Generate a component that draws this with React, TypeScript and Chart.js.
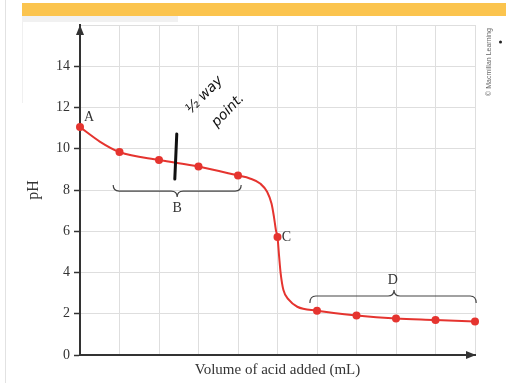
import { useEffect, useRef } from 'react';
import { Chart, registerables } from 'chart.js';

Chart.register(...registerables);

// Marked titration points (volume of acid added, pH)
const markerVolumes = [0, 1, 2, 3, 4, 5, 6, 7, 8, 9, 10];
const markerPh = [11.05, 9.84, 9.45, 9.14, 8.7, 5.72, 2.15, 1.92, 1.77, 1.7, 1.62];

// Points
const curveVolumes = [0, 0.5, 1, 2, 3, 4, 4.3, 4.57, 4.74, 4.85, 4.91, 4.96, 5, 5.04, 5.08, 5.15, 5.29, 5.5, 6, 7, 8, 9, 10];
const curvePh = [11.05, 10.35, 9.84, 9.45, 9.14, 8.7, 8.56, 8.3, 7.9, 7.33, 6.7, 6.05, 5.72, 4.8, 3.96, 3.15, 2.67, 2.34, 2.15, 1.92, 1.77, 1.7, 1.62];

const yTickValues = [0, 2, 4, 6, 8, 10, 12, 14];
const yMax = 16;
const xMax = 10;

const xTitle = 'Volume of acid added (mL)';
const yTitle = 'pH';

// Annotation anchors in data units
const labelA = { text: 'A', x: 0.1, y: 11.5 };
const labelB = { text: 'B', x: 2.46, y: 7.13 };
const labelC = { text: 'C', x: 5.11, y: 5.72 };
const labelD = { text: 'D', x: 7.92, y: 3.64 };
const braceB = { x1: 0.84, x2: 4.08, xm: 2.46, yEnd: 8.24, yLine: 7.95, yNib: 7.66 };
const braceD = { x1: 5.82, x2: 10.03, xm: 7.95, yEnd: 2.52, yLine: 2.86, yNib: 3.15 };
const halfMark = { x1: 2.45, y1: 10.72, x2: 2.4, y2: 8.53 };
const noteLine1 = { text: '½ way', x: 3.15, y: 12.6 };
const noteLine2 = { text: 'point.', x: 3.75, y: 11.85 };

const RED = '#e5342f';
const DARK = '#333333';
const SERIF = '"Liberation Serif", "Times New Roman", serif';

const decorPlugin = {
  id: 'decor',
  beforeDraw(chart: any) {
    const { ctx } = chart;
    ctx.save();
    ctx.fillStyle = '#ffffff';
    ctx.fillRect(0, 0, chart.width, chart.height);
    ctx.fillStyle = '#fbc44e';
    ctx.fillRect(22, 3, chart.width - 22, 13);
    ctx.fillStyle = '#f1f1f1';
    ctx.fillRect(22, 16, 156, 6);
    ctx.strokeStyle = '#e2e2e2';
    ctx.lineWidth = 1;
    ctx.beginPath();
    ctx.moveTo(5.5, 0);
    ctx.lineTo(5.5, chart.height);
    ctx.stroke();
    ctx.strokeStyle = '#f0f0f0';
    ctx.beginPath();
    ctx.moveTo(22.5, 22);
    ctx.lineTo(22.5, 103);
    ctx.stroke();
    ctx.restore();
  },
  afterDraw(chart: any) {
    const { ctx, scales } = chart;
    const xs = scales.x;
    const ys = scales.y;
    const px = (v: number) => xs.getPixelForValue(v);
    const py = (v: number) => ys.getPixelForValue(v);
    ctx.save();

    // axis arrows
    ctx.fillStyle = DARK;
    const ax = px(0);
    const top = py(yMax);
    ctx.beginPath();
    ctx.moveTo(ax, top);
    ctx.lineTo(ax - 4, top + 10);
    ctx.lineTo(ax + 4, top + 10);
    ctx.closePath();
    ctx.fill();
    const bx = px(xMax) + 1;
    const by = py(0);
    ctx.beginPath();
    ctx.moveTo(bx, by);
    ctx.lineTo(bx - 10, by - 4);
    ctx.lineTo(bx - 10, by + 4);
    ctx.closePath();
    ctx.fill();

    // braces
    const brace = (b: any) => {
      const x1 = px(b.x1), x2 = px(b.x2), xm = px(b.xm);
      const yE = py(b.yEnd), yL = py(b.yLine), yN = py(b.yNib);
      const r = 6;
      ctx.beginPath();
      ctx.moveTo(x1, yE);
      ctx.quadraticCurveTo(x1, yL, x1 + r, yL);
      ctx.lineTo(xm - r, yL);
      ctx.quadraticCurveTo(xm, yL, xm, yN);
      ctx.quadraticCurveTo(xm, yL, xm + r, yL);
      ctx.lineTo(x2 - r, yL);
      ctx.quadraticCurveTo(x2, yL, x2, yE);
      ctx.stroke();
    };
    ctx.strokeStyle = '#444';
    ctx.lineWidth = 1.2;
    brace(braceB);
    brace(braceD);

    // letter labels
    ctx.fillStyle = DARK;
    ctx.font = `14px ${SERIF}`;
    ctx.textBaseline = 'middle';
    ctx.textAlign = 'left';
    ctx.fillText(labelA.text, px(labelA.x), py(labelA.y));
    ctx.fillText(labelC.text, px(labelC.x), py(labelC.y));
    ctx.textAlign = 'center';
    ctx.fillText(labelB.text, px(labelB.x), py(labelB.y));
    ctx.fillText(labelD.text, px(labelD.x), py(labelD.y));

    // handwritten note
    ctx.strokeStyle = '#111';
    ctx.lineWidth = 3;
    ctx.lineCap = 'round';
    ctx.beginPath();
    ctx.moveTo(px(halfMark.x1), py(halfMark.y1));
    ctx.lineTo(px(halfMark.x2), py(halfMark.y2));
    ctx.stroke();
    ctx.fillStyle = '#111';
    ctx.font = 'italic 14px "DejaVu Sans", sans-serif';
    ctx.textAlign = 'center';
    for (const n of [noteLine1, noteLine2]) {
      ctx.save();
      ctx.translate(px(n.x), py(n.y));
      ctx.rotate(-0.8);
      ctx.fillText(n.text, 0, 0);
      ctx.restore();
    }

    // credit
    ctx.save();
    ctx.translate(489, 62);
    ctx.rotate(-Math.PI / 2);
    ctx.fillStyle = '#666';
    ctx.font = '7px "Liberation Sans", Arial, sans-serif';
    ctx.textAlign = 'center';
    ctx.fillText('© Macmillan Learning', 0, 0);
    ctx.restore();
    ctx.fillStyle = '#222';
    ctx.beginPath();
    ctx.arc(500.5, 42, 1.5, 0, Math.PI * 2);
    ctx.fill();

    ctx.restore();
  },
};

export default function App() {
  const ref = useRef<HTMLCanvasElement>(null);
  useEffect(() => {
    if (!ref.current) return;
    const markers = markerVolumes.map((v, i) => ({ x: v, y: markerPh[i] }));
    const curve = curveVolumes.map((v, i) => ({ x: v, y: curvePh[i] }));
    const chart = new Chart(ref.current, {
      type: 'line',
      data: {
        datasets: [
          {
            data: markers,
            showLine: false,
            pointRadius: 4,
            pointBackgroundColor: RED,
            pointBorderWidth: 0,
            clip: false,
          } as any,
          {
            data: curve,
            borderColor: RED,
            borderWidth: 2,
            pointRadius: 0,
            cubicInterpolationMode: 'monotone',
            fill: false,
            clip: false,
          } as any,
        ],
      },
      options: {
        animation: false,
        responsive: false,
        events: [],
        layout: { padding: { top: 25, right: 31, left: 0, bottom: 0 } },
        plugins: { legend: { display: false }, tooltip: { enabled: false } },
        scales: {
          x: {
            type: 'linear',
            min: 0,
            max: xMax,
            ticks: { display: false, stepSize: 1 },
            grid: { color: '#dedede', lineWidth: 1, drawTicks: false },
            border: { color: DARK, width: 2 },
            title: {
              display: true,
              text: xTitle,
              color: DARK,
              font: { family: SERIF, size: 15 },
              padding: { top: 0, bottom: 4 },
            },
            afterFit: (s: any) => { s.height = 28; },
          },
          y: {
            type: 'linear',
            min: 0,
            max: yMax,
            ticks: {
              stepSize: 2,
              color: DARK,
              padding: 4,
              font: { family: SERIF, size: 14 },
              callback: (v: any) => (yTickValues.includes(Number(v)) ? String(v) : ''),
            },
            grid: {
              color: '#dedede',
              lineWidth: 1,
              tickLength: 6,
              tickColor: (c: any) => (c.tick && c.tick.value === yMax ? 'rgba(0,0,0,0)' : DARK),
              tickWidth: 1.5,
            } as any,
            border: { color: DARK, width: 2 },
            title: {
              display: true,
              text: yTitle,
              color: DARK,
              font: { family: SERIF, size: 16 },
              padding: { top: 24, bottom: 0 },
            },
            afterFit: (s: any) => { s.width = 80; },
          },
        },
      },
      plugins: [decorPlugin],
    });
    return () => chart.destroy();
  }, []);
  return (
    <div style={{ position: 'absolute', left: 0, top: 0, width: 506, height: 383, background: '#fff' }}>
      <canvas ref={ref} width={506} height={383} style={{ display: 'block' }} />
    </div>
  );
}
